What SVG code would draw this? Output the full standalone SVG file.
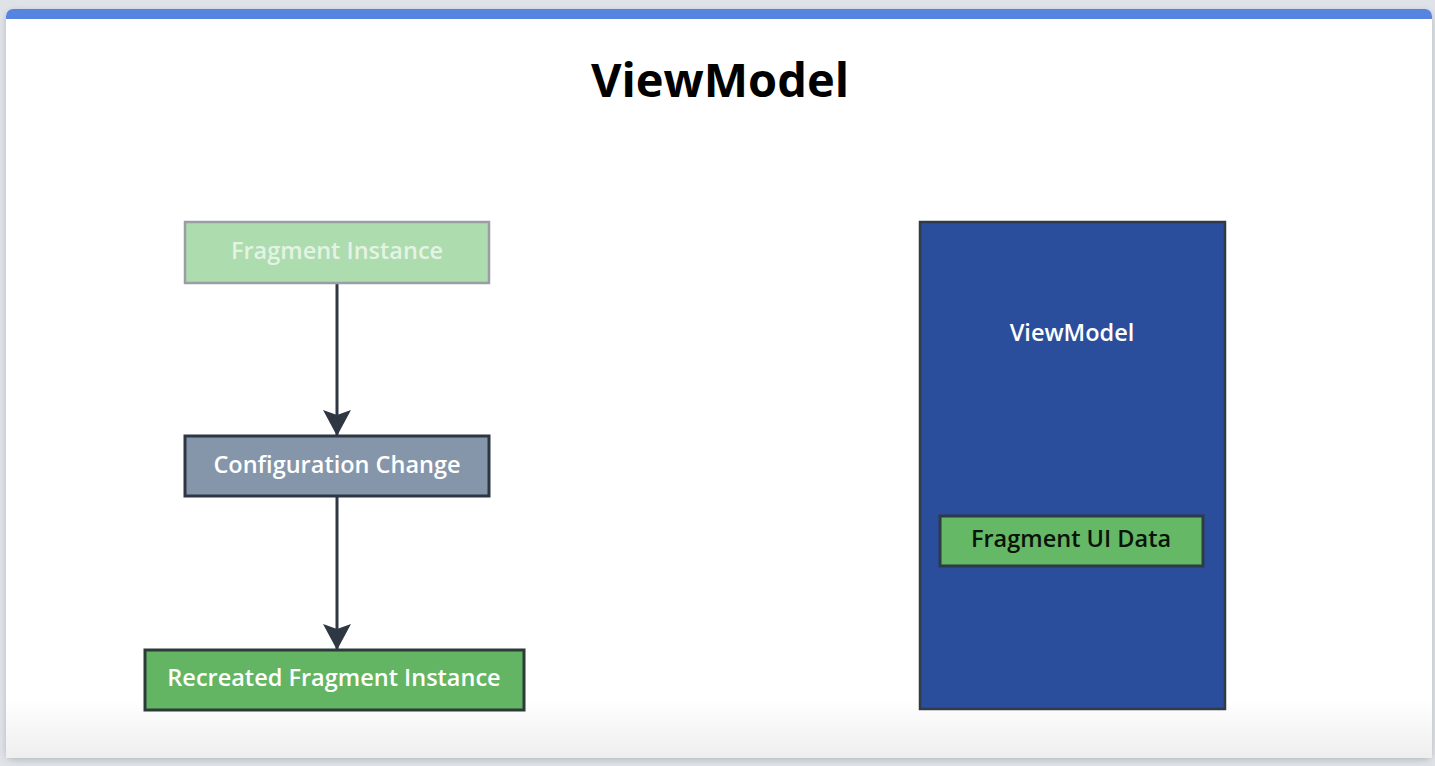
<svg xmlns="http://www.w3.org/2000/svg" width="1435" height="766" viewBox="0 0 1435 766">
<style>
.lbl{font-family:"Open Sans","Noto Sans","Liberation Sans",sans-serif;font-size:23.5px;font-weight:600;text-anchor:middle;dominant-baseline:central}
.edge{stroke:#2f3743;stroke-width:3;fill:none}
</style>
<defs>
<marker id="ah" markerWidth="28" markerHeight="30" refX="26" refY="14" orient="auto" markerUnits="userSpaceOnUse" viewBox="0 0 28 28">
<path d="M0,0 L5,14 L0,28 L26,14 Z" fill="#2f3743"/>
</marker>
<filter id="sh" x="-5%" y="-5%" width="110%" height="110%"><feGaussianBlur stdDeviation="3"/></filter>
<linearGradient id="bot" x1="0" y1="0" x2="0" y2="1"><stop offset="0" stop-color="#ffffff"/><stop offset="1" stop-color="#eeeeee"/></linearGradient>
</defs>
<rect width="1435" height="766" fill="#dfe2e6"/>
<rect x="6" y="11" width="1426" height="749" rx="8" fill="#9aa0a8" filter="url(#sh)" opacity="0.6"/>
<rect x="6" y="9" width="1426" height="749" rx="7" fill="#ffffff"/>
<rect x="6" y="700" width="1426" height="58" fill="url(#bot)"/>
<path d="M6,19 V16 a7,7 0 0 1 7,-7 H1425 a7,7 0 0 1 7,7 V19 Z" fill="#5884e1"/>
<text x="720" y="79" font-family="'Open Sans','Noto Sans','Liberation Sans',sans-serif" font-size="47" font-weight="bold" text-anchor="middle" dominant-baseline="central" fill="#000">ViewModel</text>
<g id="connectors">
<line class="edge" x1="337" y1="283" x2="337" y2="436" marker-end="url(#ah)"/>
<line class="edge" x1="337" y1="497" x2="337" y2="650" marker-end="url(#ah)"/>
</g>
<g id="fragment-instance">
<rect x="185" y="222" width="304" height="61" fill="#addcaf" stroke="#9a9ea4" stroke-width="2.5"/>
<text class="lbl" x="337" y="250" fill="#e4f3e4">Fragment Instance</text>
</g>
<g id="configuration-change">
<rect x="185" y="436" width="304" height="60" fill="#8595aa" stroke="#2d3642" stroke-width="3"/>
<text class="lbl" x="337" y="464" fill="#ffffff">Configuration Change</text>
</g>
<g id="recreated-fragment-instance">
<rect x="145" y="650" width="379" height="60" fill="#63b563" stroke="#2d3a3a" stroke-width="3"/>
<text class="lbl" x="334" y="677" fill="#ffffff">Recreated Fragment Instance</text>
</g>
<g id="viewmodel">
<rect x="920" y="222" width="305" height="487" fill="#2a4e9b" stroke="#303a48" stroke-width="2.5"/>
<text class="lbl" x="1072" y="332" fill="#ffffff">ViewModel</text>
</g>
<g id="fragment-ui-data">
<rect x="940" y="516" width="263" height="50" fill="#65b865" stroke="#2d3a48" stroke-width="3"/>
<text class="lbl" x="1071" y="538" fill="#0a140a">Fragment UI Data</text>
</g>
</svg>
